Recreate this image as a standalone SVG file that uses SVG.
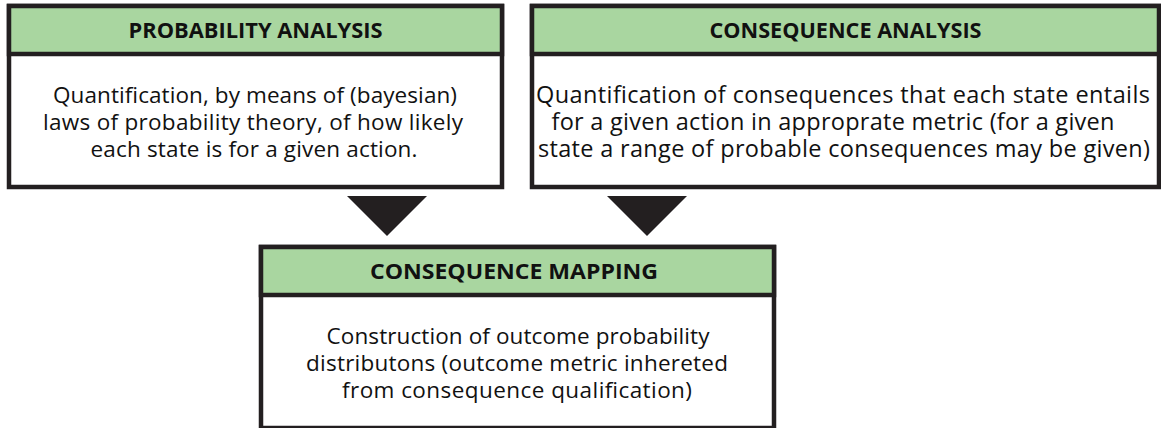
<svg xmlns="http://www.w3.org/2000/svg" width="1161" height="428" viewBox="0 0 1161 428">
<style>
.box{fill:#ffffff;stroke:#231f20;stroke-width:4.5}
.hdr{fill:#a9d6a0;stroke:#231f20;stroke-width:4.5}
.ht{font-family:"Open Sans","Liberation Sans",sans-serif;font-weight:bold;font-size:21.5px;fill:#111;text-anchor:middle}
.bt{font-family:"Open Sans","Liberation Sans",sans-serif;font-size:22.5px;fill:#111;text-anchor:middle}
.bt2{font-size:23.5px}
.arr{fill:#231f20}
</style>
<rect width="1161" height="428" fill="#ffffff"/>
<g id="probability-analysis">
<rect class="box" x="9" y="6" width="493" height="181"/>
<rect class="hdr" x="9" y="6" width="493" height="48"/>
<text class="ht" x="255.5" y="38" textLength="254" lengthAdjust="spacingAndGlyphs">PROBABILITY ANALYSIS</text>
<text class="bt"><tspan x="255" y="103" textLength="404">Quantification, by means of (bayesian)</tspan><tspan x="253" y="130" textLength="420">laws of probability theory, of how likely</tspan><tspan x="254" y="157" textLength="327">each state is for a given action.</tspan></text>
</g>
<g id="consequence-analysis">
<rect class="box" x="532" y="6" width="627" height="181"/>
<rect class="hdr" x="532" y="6" width="627" height="48"/>
<text class="ht" x="845.5" y="38" textLength="272" lengthAdjust="spacingAndGlyphs">CONSEQUENCE ANALYSIS</text>
<text class="bt bt2"><tspan x="843" y="103" textLength="614">Quantification of consequences that each state entails</tspan><tspan x="833" y="130" textLength="563">for a given action in approprate metric (for a given</tspan><tspan x="844" y="157" textLength="612">state a range of probable consequences may be given)</tspan></text>
</g>
<g id="connectors">
<polygon class="arr" points="347,196 427,196 387,236"/>
<polygon class="arr" points="607,196 687,196 647,236"/>
</g>
<g id="consequence-mapping">
<rect class="box" x="261" y="247" width="513" height="181"/>
<rect class="hdr" x="261" y="247" width="513" height="48"/>
<text class="ht" x="514" y="279" textLength="288" lengthAdjust="spacingAndGlyphs">CONSEQUENCE MAPPING</text>
<text class="bt"><tspan x="518" y="344" textLength="383">Construction of outcome probability</tspan><tspan x="517" y="371" textLength="422">distributons (outcome metric inhereted</tspan><tspan x="517" y="398" textLength="350">from consequence qualification)</tspan></text>
</g>
</svg>
